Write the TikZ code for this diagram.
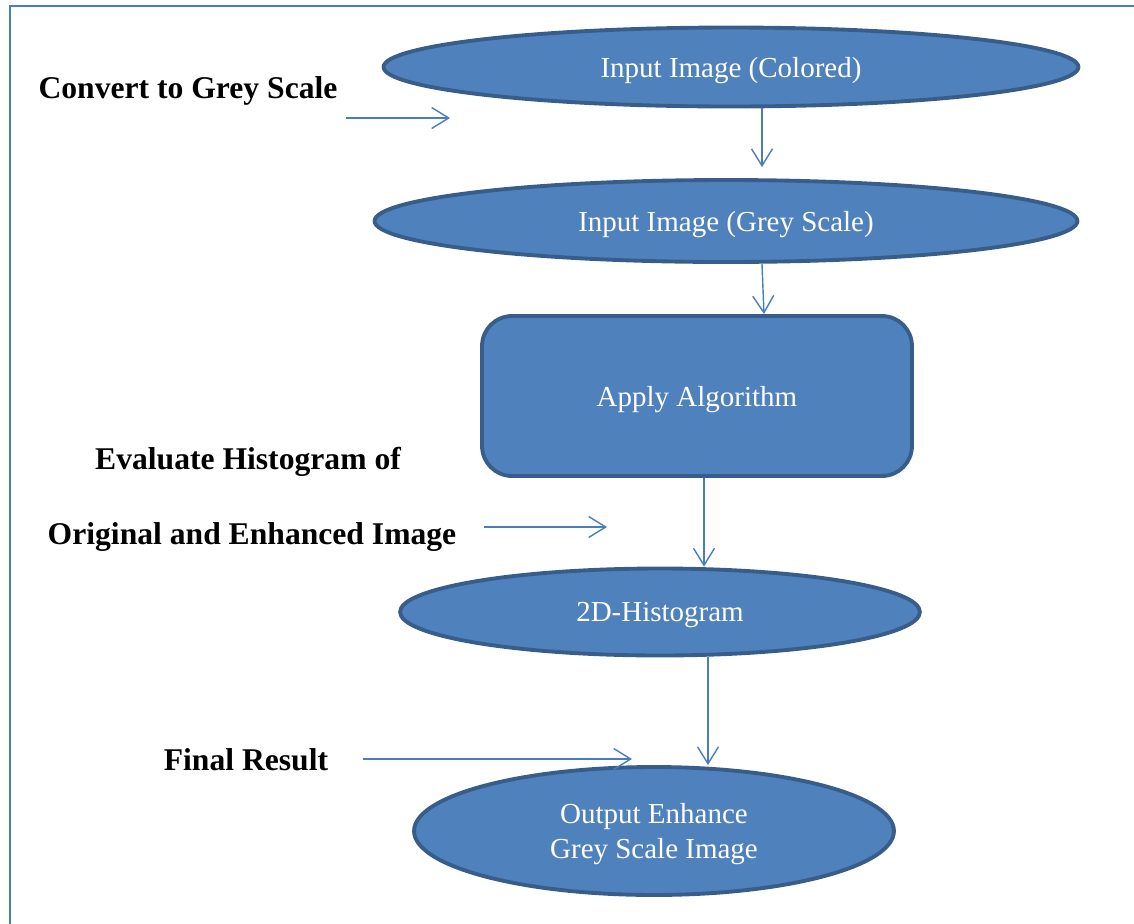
\documentclass[tikz,border=0pt]{standalone}
\usepackage{fontspec}
\setmainfont{Liberation Serif}
\usepackage{tikz}
\usetikzlibrary{arrows.meta,positioning,shapes.geometric}
\definecolor{boxfill}{HTML}{4F81BD}
\definecolor{boxline}{HTML}{385D8A}
\definecolor{linkcol}{HTML}{4A7EBB}

\begin{document}
\begin{tikzpicture}[
  x=0.02cm, y=-0.02cm,
  stage/.style={draw=boxline, line width=2.2pt, fill=boxfill, text=white, align=center,
    font=\fontsize{16.5}{19.5}\selectfont, inner sep=0pt, text depth=0pt},
  oval/.style={stage, ellipse},
  box/.style={stage, rectangle, rounded corners=0.6cm},
  note/.style={font=\fontsize{18}{21}\selectfont\bfseries, text=black},
  >={Straight Barb[length=3.4mm, width=4.2mm]},
  link/.style={draw=linkcol, line width=0.8pt, ->}
]
\useasboundingbox (0,0) rectangle (1134,924);
\draw[draw=linkcol, line width=1.2pt] (10,924) -- (10,6) -- (1134,6);

\node[oval, minimum width=13.9cm, minimum height=1.58cm]  (colored) at (731,67)  {Input Image (Colored)};
\node[oval, minimum width=14.06cm, minimum height=1.64cm] (grey)    at (726,221) {Input Image (Grey Scale)};
\node[box, minimum width=8.6cm, minimum height=3.2cm]     (algo)    at (697,396) {Apply Algorithm};
\node[oval, minimum width=10.4cm, minimum height=1.74cm]  (hist)    at (660,612) {2D-Histogram};
\node[oval, minimum width=9.6cm, minimum height=2.56cm]   (result)  at (654,831) {Output Enhance\\Grey Scale Image};

\node[note] (convert)  at (188,91)  {Convert to Grey Scale};
\node[note] (evaluate) at (248,462) {Evaluate Histogram of};
\node[note] (original) at (252,537) {Original and Enhanced Image};
\node[note] (final)    at (246,760) {Final Result};

% main flow
\draw[link, shorten >=0.22cm] (colored.south -| 762,0) -- (grey.north -| 762,0);
\draw[link] (grey.south -| 762,0) -- (algo.north -| 764,0);
\draw[link] (algo.south -| 704,0) -- (hist.north -| 704,0);
\draw[link] (hist.south -| 708,0) -- (result.north -| 708,0);

% side arrows
\coordinate (convS) at (346,118);  \coordinate (convE) at (450,118);
\coordinate (evalS) at (484,527);  \coordinate (evalE) at (607,527);
\coordinate (finS)  at (363,759);  \coordinate (finE)  at (632,759);
\draw[link] (convS) -- (convE);
\draw[link] (evalS) -- (evalE);
\draw[link] (finS) -- (finE);

\end{tikzpicture}
\end{document}
